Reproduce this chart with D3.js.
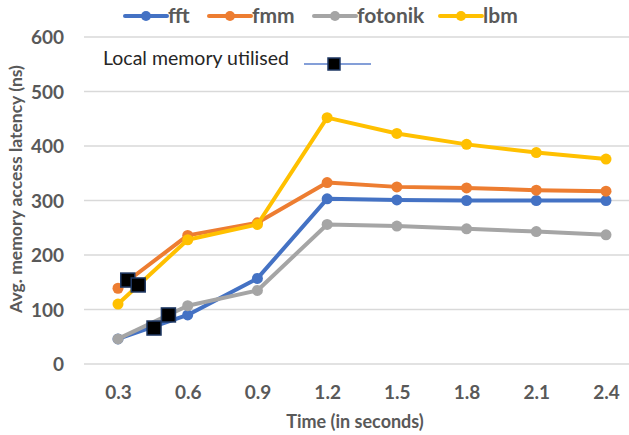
<!DOCTYPE html>
<html>
<head>
<meta charset="utf-8">
<script src="https://cdn.jsdelivr.net/npm/d3@7"></script>
<style>
  body { margin: 0; background: #fff; }
  text { font-family: Lato, "Open Sans", sans-serif; }
</style>
</head>
<body>
<div class="graph"></div>
<script>
// data
const times = [0.3, 0.6, 0.9, 1.2, 1.5, 1.8, 2.1, 2.4];
const fft     = [46, 90, 157, 303, 301, 300, 300, 300];
const fmm     = [139, 236, 259, 333, 325, 323, 319, 317];
const fotonik = [46, 107, 135, 256, 253, 248, 243, 237];
const lbm     = [110, 228, 256, 452, 423, 403, 388, 376];
const yTicks  = [0, 100, 200, 300, 400, 500, 600];

// the "Local memory utilised" markers sit between the categories
const localTimes  = [0.342, 0.387, 0.455, 0.517];
const localValues = [154, 145, 66, 90];

const seriesNames  = ["fft", "fmm", "fotonik", "lbm"];
const seriesValues = [fft, fmm, fotonik, lbm];
const colors = ["#4472C4", "#ED7D31", "#A5A5A5", "#FFC000"];

const SIZE = {X: 629, Y: 435};

const svg = d3.select(".graph").append("svg")
    .attr("width", SIZE.X)
    .attr("height", SIZE.Y);

// scales
const x = d3.scaleLinear()
    .domain([0.3, 2.4])
    .range([118, 606]);

const y = d3.scaleLinear()
    .domain([0, 600])
    .range([364, 37]);

// gridlines
svg.append("g").selectAll("line")
    .data(yTicks)
    .enter()
    .append("line")
        .attr("x1", 84)
        .attr("x2", 641)
        .attr("y1", d => y(d))
        .attr("y2", d => y(d))
        .attr("stroke", "#d9d9d9")
        .attr("stroke-width", 1.3);

// axes (labels only, no domain lines)
const yAxis = svg.append("g")
    .attr("transform", "translate(64,0)")
    .call(d3.axisLeft(y).tickValues(yTicks).tickSize(0).tickPadding(0));

const xAxis = svg.append("g")
    .attr("transform", "translate(0,392)")
    .call(d3.axisBottom(x).tickValues(times).tickSize(0).tickPadding(0)
        .tickFormat(d3.format(".1f")));

svg.selectAll(".domain").remove();
svg.selectAll(".tick text")
    .attr("fill", "#595959")
    .style("font-family", "Lato, sans-serif")
    .style("font-size", "19px")
    .style("font-weight", "bold");
yAxis.selectAll(".tick text").attr("dy", "0.35em");
xAxis.selectAll(".tick text").attr("dy", "0.35em");

// axis titles
svg.append("text")
    .attr("x", 355)
    .attr("y", 428)
    .attr("text-anchor", "middle")
    .attr("fill", "#595959")
    .style("font-size", "18px")
    .style("font-weight", "bold")
    .text("Time (in seconds)");

svg.append("text")
    .attr("transform", "translate(22,189) rotate(-90)")
    .attr("text-anchor", "middle")
    .attr("fill", "#595959")
    .style("font-size", "17.5px")
    .style("font-weight", "bold")
    .text("Avg. memory access latency (ns)");

// line generator
const line = d3.line()
    .x((d, i) => x(times[i]))
    .y(d => y(d));

seriesValues.forEach((vals, k) => {
    svg.append("path")
        .datum(vals)
        .attr("fill", "none")
        .attr("stroke", colors[k])
        .attr("stroke-width", 4)
        .attr("stroke-linejoin", "round")
        .attr("stroke-linecap", "round")
        .attr("d", line);

    svg.append("g").selectAll("circle")
        .data(vals)
        .enter()
        .append("circle")
            .attr("cx", (d, i) => x(times[i]))
            .attr("cy", d => y(d))
            .attr("r", 5.5)
            .attr("fill", colors[k]);
});

// black square markers
svg.append("g").selectAll("rect")
    .data(localValues)
    .enter()
    .append("rect")
        .attr("x", (d, i) => x(localTimes[i]) - 7)
        .attr("y", d => y(d) - 7)
        .attr("width", 14)
        .attr("height", 14)
        .attr("fill", "#000")
        .attr("stroke", "#1F3864")
        .attr("stroke-width", 1.5);

// legend
const legendX = [125, 209, 314, 440];
const legend = svg.append("g");
seriesNames.forEach((name, k) => {
    const g = legend.append("g").attr("transform", `translate(${legendX[k]},16)`);
    g.append("line")
        .attr("x1", 0).attr("x2", 42)
        .attr("stroke", colors[k])
        .attr("stroke-width", 4)
        .attr("stroke-linecap", "round");
    g.append("circle")
        .attr("cx", 21)
        .attr("r", 5)
        .attr("fill", colors[k]);
    g.append("text")
        .attr("x", 43)
        .attr("dy", "0.35em")
        .attr("fill", "#595959")
        .style("font-size", "21px")
        .style("font-weight", "bold")
        .text(name);
});

const local = svg.append("g").attr("transform", "translate(103,58)");
local.append("text")
    .attr("dy", "0.35em")
    .attr("fill", "#262626")
    .style("font-size", "19.5px")
    .text("Local memory utilised");
local.append("line")
    .attr("x1", 201).attr("x2", 268)
    .attr("y1", 6).attr("y2", 6)
    .attr("stroke", "#5B7FCB")
    .attr("stroke-width", 1.3);
local.append("rect")
    .attr("x", 225).attr("y", 0)
    .attr("width", 12).attr("height", 12)
    .attr("fill", "#000")
    .attr("stroke", "#1F3864")
    .attr("stroke-width", 1.5);
</script>
</body>
</html>
